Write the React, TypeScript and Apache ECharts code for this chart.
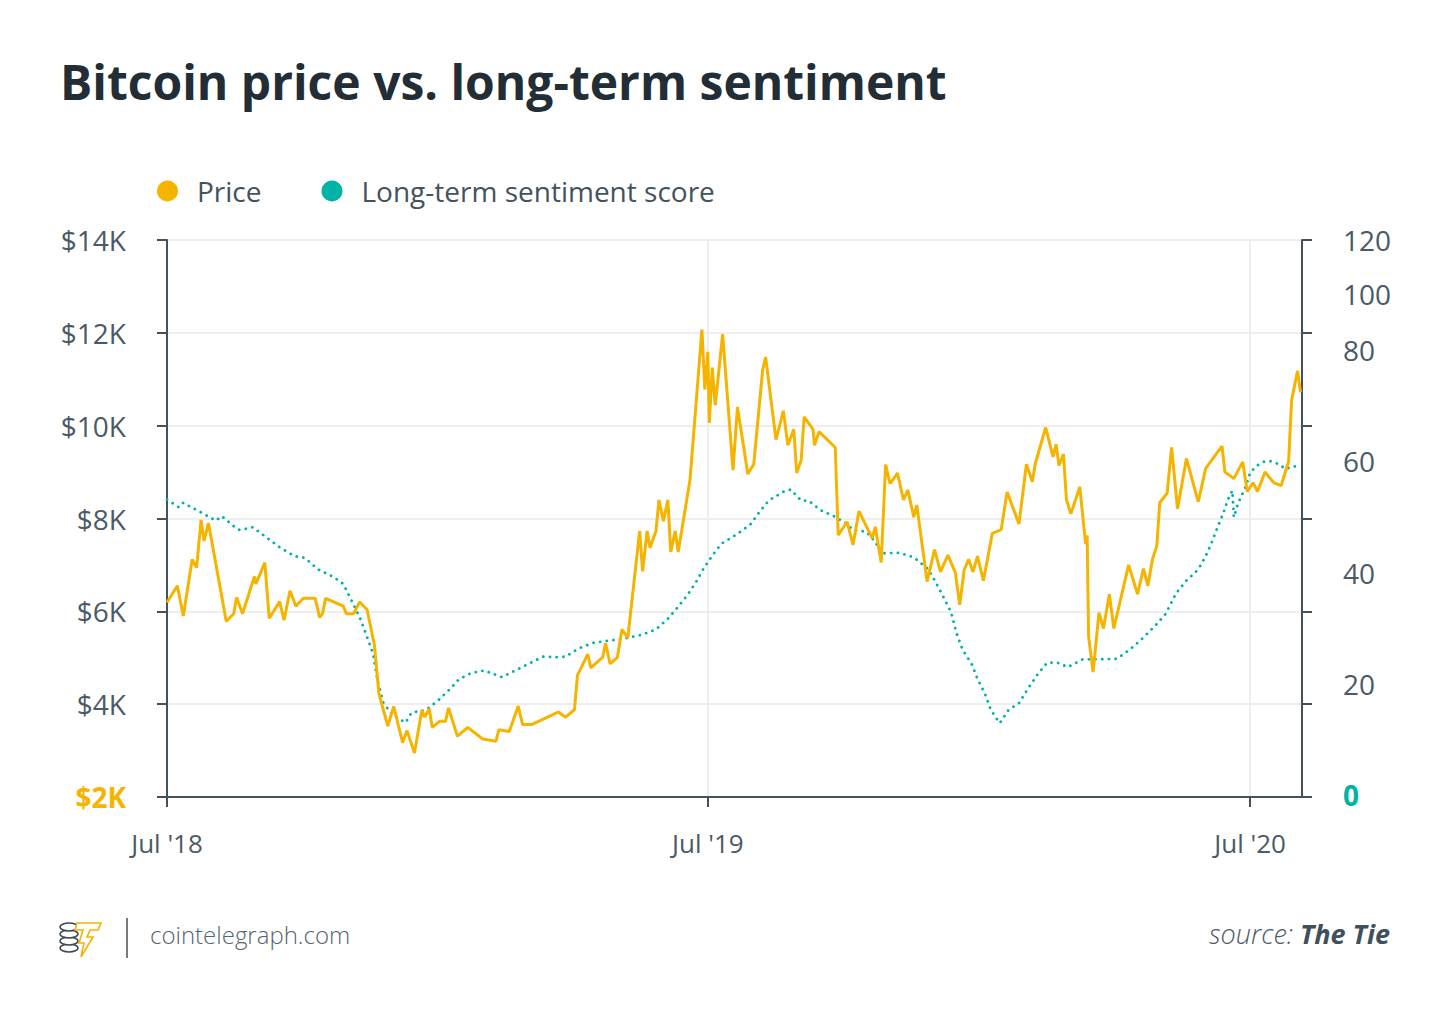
import React, { useEffect, useRef } from "react";
import * as echarts from "echarts";

const priceDates = [
  "2018-07-01","2018-07-08","2018-07-12","2018-07-18","2018-07-21","2018-07-24","2018-07-26","2018-07-29",
  "2018-08-10","2018-08-15","2018-08-17","2018-08-21","2018-08-29","2018-08-30","2018-09-05","2018-09-08",
  "2018-09-15","2018-09-18","2018-09-22","2018-09-26","2018-10-01","2018-10-09","2018-10-12","2018-10-14",
  "2018-10-16","2018-10-28","2018-10-30","2018-11-04","2018-11-08","2018-11-13","2018-11-18","2018-11-21",
  "2018-11-27","2018-12-01","2018-12-07","2018-12-10","2018-12-15","2018-12-20","2018-12-22","2018-12-25",
  "2018-12-27","2019-01-01","2019-01-05","2019-01-07","2019-01-13","2019-01-20","2019-01-30","2019-02-08",
  "2019-02-10","2019-02-17","2019-02-23","2019-02-26","2019-03-04","2019-03-22","2019-03-27","2019-04-02",
  "2019-04-04","2019-04-11","2019-04-13","2019-04-21","2019-04-23","2019-04-26","2019-05-01","2019-05-04",
  "2019-05-08","2019-05-16","2019-05-18","2019-05-21","2019-05-23","2019-05-27","2019-05-29","2019-06-01",
  "2019-06-04","2019-06-06","2019-06-09","2019-06-11","2019-06-19","2019-06-27","2019-06-29","2019-07-01",
  "2019-07-02","2019-07-04","2019-07-06","2019-07-11","2019-07-18","2019-07-21","2019-07-28","2019-08-01",
  "2019-08-07","2019-08-09","2019-08-16","2019-08-21","2019-08-24","2019-08-28","2019-08-30","2019-09-02",
  "2019-09-04","2019-09-10","2019-09-11","2019-09-14","2019-09-25","2019-09-27","2019-10-03","2019-10-07",
  "2019-10-11","2019-10-20","2019-10-22","2019-10-26","2019-10-29","2019-11-01","2019-11-06","2019-11-10",
  "2019-11-13","2019-11-17","2019-11-19","2019-11-26","2019-12-01","2019-12-05","2019-12-10","2019-12-15",
  "2019-12-18","2019-12-21","2019-12-24","2019-12-27","2019-12-30","2020-01-03","2020-01-09","2020-01-15",
  "2020-01-19","2020-01-27","2020-02-01","2020-02-05","2020-02-07","2020-02-14","2020-02-19","2020-02-21",
  "2020-02-23","2020-02-26","2020-02-28","2020-03-02","2020-03-08","2020-03-12","2020-03-13","2020-03-14",
  "2020-03-17","2020-03-21","2020-03-24","2020-03-28","2020-03-31","2020-04-10","2020-04-16","2020-04-20",
  "2020-04-23","2020-04-26","2020-04-29","2020-05-01","2020-05-06","2020-05-09","2020-05-13","2020-05-19",
  "2020-05-27","2020-06-01","2020-06-12","2020-06-14","2020-06-20","2020-06-26","2020-06-29","2020-07-03",
  "2020-07-06","2020-07-11","2020-07-17","2020-07-22","2020-07-27","2020-07-29","2020-08-02","2020-08-04"
];

const priceValues = [
  6190,6550,5900,7120,6940,7970,7520,7900,
  5780,5950,6300,5950,6750,6590,7050,5850,
  6210,5810,6440,6110,6280,6280,5870,5950,
  6280,6110,5950,5950,6200,6040,5270,4230,
  3530,3950,3170,3430,2950,3870,3720,3900,
  3500,3630,3630,3920,3310,3500,3250,3200,
  3450,3410,3960,3560,3560,3830,3720,3880,
  4620,5080,4780,5010,5310,4870,5010,5610,
  5430,7730,6860,7730,7370,7730,8400,7940,
  8400,7280,7730,7280,8840,12070,10780,11590,
  10060,11250,10440,11970,9040,10400,8960,9170,
  11200,11480,9700,10320,9580,9920,8980,9260,
  10190,9920,9580,9870,9530,7640,7930,7430,
  8160,7570,7820,7050,9160,8750,8980,8400,
  8610,8030,8290,6640,7330,6850,7210,6840,
  6140,6890,7120,6850,7190,6660,7680,7760,
  8570,7880,9170,8790,9180,9960,9330,9600,
  9140,9390,8410,8100,8680,7450,7640,5450,
  4690,5970,5630,6370,5630,7000,6370,6920,
  6550,7110,7410,8340,8550,9530,8210,9290,
  8360,9080,9560,9000,8860,9220,8580,8770,
  8580,9000,8770,8710,9240,10550,11180,10720
];

const sentimentDates = [
  "2018-07-01","2018-07-09","2018-07-12","2018-07-21","2018-07-30","2018-08-03","2018-08-07","2018-08-15",
  "2018-08-19","2018-08-28","2018-09-06","2018-09-15","2018-09-25","2018-10-02","2018-10-11","2018-10-21",
  "2018-10-28","2018-11-02","2018-11-08","2018-11-12","2018-11-17","2018-11-20","2018-11-24","2018-11-30",
  "2018-12-09","2018-12-13","2018-12-23","2018-12-31","2019-01-07","2019-01-14","2019-01-22","2019-01-31",
  "2019-02-06","2019-02-12","2019-02-21","2019-03-02","2019-03-12","2019-03-22","2019-03-27","2019-04-05",
  "2019-04-15","2019-04-26","2019-05-07","2019-05-17","2019-05-27","2019-06-04","2019-06-11","2019-06-17",
  "2019-06-23","2019-06-28","2019-07-04","2019-07-10","2019-07-21","2019-07-30","2019-08-05","2019-08-11",
  "2019-08-21","2019-08-26","2019-09-02","2019-09-07","2019-09-15","2019-09-24","2019-10-03","2019-10-07",
  "2019-10-16","2019-10-22","2019-10-26","2019-11-07","2019-11-17","2019-11-27","2019-12-04","2019-12-12",
  "2019-12-16","2019-12-20","2019-12-26","2019-12-30","2020-01-04","2020-01-08","2020-01-14","2020-01-20",
  "2020-01-27","2020-02-02","2020-02-08","2020-02-15","2020-02-22","2020-02-29","2020-03-10","2020-03-21",
  "2020-04-02","2020-04-11","2020-04-19","2020-04-27","2020-05-05","2020-05-12","2020-05-19","2020-05-27",
  "2020-06-01","2020-06-05","2020-06-09","2020-06-13","2020-06-16","2020-06-19","2020-06-20","2020-06-23",
  "2020-06-28","2020-07-01","2020-07-05","2020-07-10","2020-07-15","2020-07-20","2020-07-25","2020-07-30",
  "2020-08-04"
];

const sentimentValues = [
  53.6,52.2,53.0,51.7,50.4,49.8,50.6,48.8,
  48.1,48.6,46.8,45.0,43.4,43.1,41.0,39.7,
  38.4,35.7,32.4,29.6,25.9,21.1,17.0,14.8,
  13.4,15.2,15.7,17.4,19.2,21.2,22.3,22.8,
  22.2,21.6,22.8,24.0,25.3,25.2,25.3,26.8,
  27.8,28.2,28.6,29.2,30.2,32.1,34.3,36.3,
  38.7,41.1,43.5,45.6,47.4,49.2,51.4,53.4,
  55.0,55.4,53.4,53.4,51.7,50.6,49.2,48.1,
  47.8,46.0,43.9,44.0,43.2,41.0,37.6,33.4,
  29.4,26.5,24.0,21.3,18.6,15.7,13.3,15.7,
  16.9,19.5,21.9,24.2,24.2,23.4,24.8,24.8,
  24.9,26.6,28.5,30.6,33.0,36.7,39.0,41.0,
  43.4,45.8,48.6,51.2,53.6,55.2,50.4,53.0,
  55.9,58.4,59.6,60.4,60.5,60.0,59.1,59.6,
  59.4
];

const xRange = ["2018-07-01", "2020-08-05"];
const xTickDates = ["2018-07-01", "2019-07-01", "2020-07-01"];
const xTickLabels = ["Jul '18", "Jul '19", "Jul '20"];

const priceMin = 2000;
const priceMax = 14000;
const priceStep = 2000;

const sentimentMax = 100.36;
const sentimentTickValues = [0, 16.73, 33.45, 50.18, 66.91, 83.63, 100.36];
const sentimentLabelValues = [0.36, 20.4, 40.45, 60.5, 80.54, 90.6, 100.36];
const sentimentLabelTexts = ["0", "20", "40", "60", "80", "100", "120"];

const PRICE_COLOR = "#f5b400";
const SENT_COLOR = "#00b3a6";
const AXIS_COLOR = "#44525e";
const LABEL_COLOR = "#4a5a66";
const FONT = "'Open Sans', 'Noto Sans', sans-serif";

function toTime(s: string): number {
  const [y, m, d] = s.split("-").map(Number);
  return Date.UTC(y, m - 1, d);
}

function nearestIndex(list: number[], v: number): number {
  let best = 0;
  for (let i = 0; i < list.length; i++) {
    if (Math.abs(list[i] - v) < Math.abs(list[best] - v)) best = i;
  }
  return best;
}

export default function App() {
  const ref = useRef<HTMLDivElement | null>(null);

  useEffect(() => {
    if (!ref.current) return;
    const chart = echarts.init(ref.current, undefined, { renderer: "svg" });
    const tickTimes = xTickDates.map(toTime);

    const option: any = {
      animation: false,
      backgroundColor: "#ffffff",
      textStyle: { fontFamily: FONT },
      title: {
        text: "Bitcoin price vs. long-term sentiment",
        left: 55,
        top: 52,
        textStyle: { fontFamily: FONT, fontSize: 48, fontWeight: "bold", color: "#222d35" },
      },
      legend: {
        left: 152,
        top: 172,
        icon: "circle",
        itemWidth: 21,
        itemHeight: 21,
        itemGap: 60,
        data: ["Price", "Long-term sentiment score"],
        textStyle: { fontFamily: FONT, fontSize: 28, color: AXIS_COLOR, padding: [0, 0, 0, 14] },
      },
      grid: { left: 167, right: 148, top: 240, bottom: 221, containLabel: false },
      xAxis: {
        type: "value",
        min: toTime(xRange[0]),
        max: toTime(xRange[1]),
        axisLine: { show: true, lineStyle: { color: AXIS_COLOR, width: 2 } },
        axisTick: { show: true, length: 10, lineStyle: { color: AXIS_COLOR, width: 2 }, customValues: tickTimes },
        axisLabel: {
          customValues: tickTimes,
          margin: 33,
          fontFamily: FONT,
          fontSize: 26,
          color: LABEL_COLOR,
          formatter: (v: number) => xTickLabels[nearestIndex(tickTimes, v)],
        },
        splitLine: { show: true, lineStyle: { color: "#eeeeee", width: 2 } },
      },
      yAxis: [
        {
          type: "value",
          position: "left",
          min: priceMin,
          max: priceMax,
          interval: priceStep,
          axisLine: { show: true, lineStyle: { color: AXIS_COLOR, width: 2 } },
          axisTick: { show: true, length: 10, lineStyle: { color: AXIS_COLOR, width: 2 } },
          axisLabel: {
            margin: 41,
            fontFamily: FONT,
            fontSize: 28,
            color: LABEL_COLOR,
            formatter: (v: number) => (v === priceMin ? "{min|$2K}" : "$" + v / 1000 + "K"),
            rich: { min: { fontFamily: FONT, fontSize: 28, fontWeight: "bold", color: PRICE_COLOR } },
          },
          splitLine: { show: true, lineStyle: { color: "#eeeeee", width: 2 } },
        },
        {
          type: "value",
          position: "right",
          min: 0,
          max: sentimentMax,
          axisLine: { show: true, lineStyle: { color: AXIS_COLOR, width: 2 } },
          axisTick: { show: true, length: 10, lineStyle: { color: AXIS_COLOR, width: 2 }, customValues: sentimentTickValues },
          axisLabel: {
            customValues: sentimentLabelValues,
            margin: 41,
            fontFamily: FONT,
            fontSize: 28,
            color: LABEL_COLOR,
            formatter: (v: number) => {
              const i = nearestIndex(sentimentLabelValues, v);
              return i === 0 ? "{zero|0}" : sentimentLabelTexts[i];
            },
            rich: { zero: { fontFamily: FONT, fontSize: 28, fontWeight: "bold", color: SENT_COLOR } },
          },
          splitLine: { show: false },
        },
      ],
      series: [
        {
          name: "Long-term sentiment score",
          type: "line",
          yAxisIndex: 1,
          showSymbol: false,
          color: SENT_COLOR,
          itemStyle: { color: SENT_COLOR },
          lineStyle: { color: SENT_COLOR, width: 2.8, type: [0.1, 6.6], cap: "round" },
          data: sentimentDates.map((d, i) => [toTime(d), sentimentValues[i]]),
          z: 2,
        },
        {
          name: "Price",
          type: "line",
          yAxisIndex: 0,
          showSymbol: false,
          color: PRICE_COLOR,
          itemStyle: { color: PRICE_COLOR },
          lineStyle: { color: PRICE_COLOR, width: 3 },
          data: priceDates.map((d, i) => [toTime(d), priceValues[i]]),
          z: 3,
        },
      ],
      graphic: [
        { type: "ellipse", shape: { cx: 69, cy: 948, rx: 9, ry: 4 }, style: { fill: "#fff", stroke: "#3d4850", lineWidth: 1.6 } },
        { type: "ellipse", shape: { cx: 69, cy: 941, rx: 9, ry: 4 }, style: { fill: "#fff", stroke: "#3d4850", lineWidth: 1.6 } },
        { type: "ellipse", shape: { cx: 69, cy: 934, rx: 9, ry: 4 }, style: { fill: "#fff", stroke: "#3d4850", lineWidth: 1.6 } },
        { type: "ellipse", shape: { cx: 69, cy: 927, rx: 9, ry: 4 }, style: { fill: "#fff", stroke: "#3d4850", lineWidth: 1.6 } },
        {
          type: "polygon",
          shape: {
            points: [[77, 923], [101, 923], [98, 930], [90, 930], [87, 937], [93, 937], [81, 957], [84, 943], [79, 943], [83, 930], [75, 930]],
          },
          style: { fill: "#fff", stroke: PRICE_COLOR, lineWidth: 1.6 },
        },
        { type: "line", shape: { x1: 127, y1: 918, x2: 127, y2: 958 }, style: { stroke: "#7a7a7a", lineWidth: 2 } },
        {
          type: "text",
          left: 150,
          top: 922,
          style: { text: "cointelegraph.com", fontFamily: FONT, fontSize: 24, fontWeight: 300, fill: "#56646f" },
        },
        {
          type: "text",
          right: 60,
          top: 920,
          style: {
            text: "{a|source: }{b|The Tie}",
            rich: {
              a: { fontFamily: FONT, fontSize: 27, fontStyle: "italic", fontWeight: 300, fill: "#4a5a66" },
              b: { fontFamily: FONT, fontSize: 27, fontStyle: "italic", fontWeight: "bold", fill: "#3f4f5b" },
            },
          },
        },
      ],
    };

    chart.setOption(option);
    return () => chart.dispose();
  }, []);

  return (
    <div
      ref={ref}
      style={{ position: "fixed", left: 0, top: 0, width: 1450, height: 1018, background: "#ffffff" }}
    />
  );
}
